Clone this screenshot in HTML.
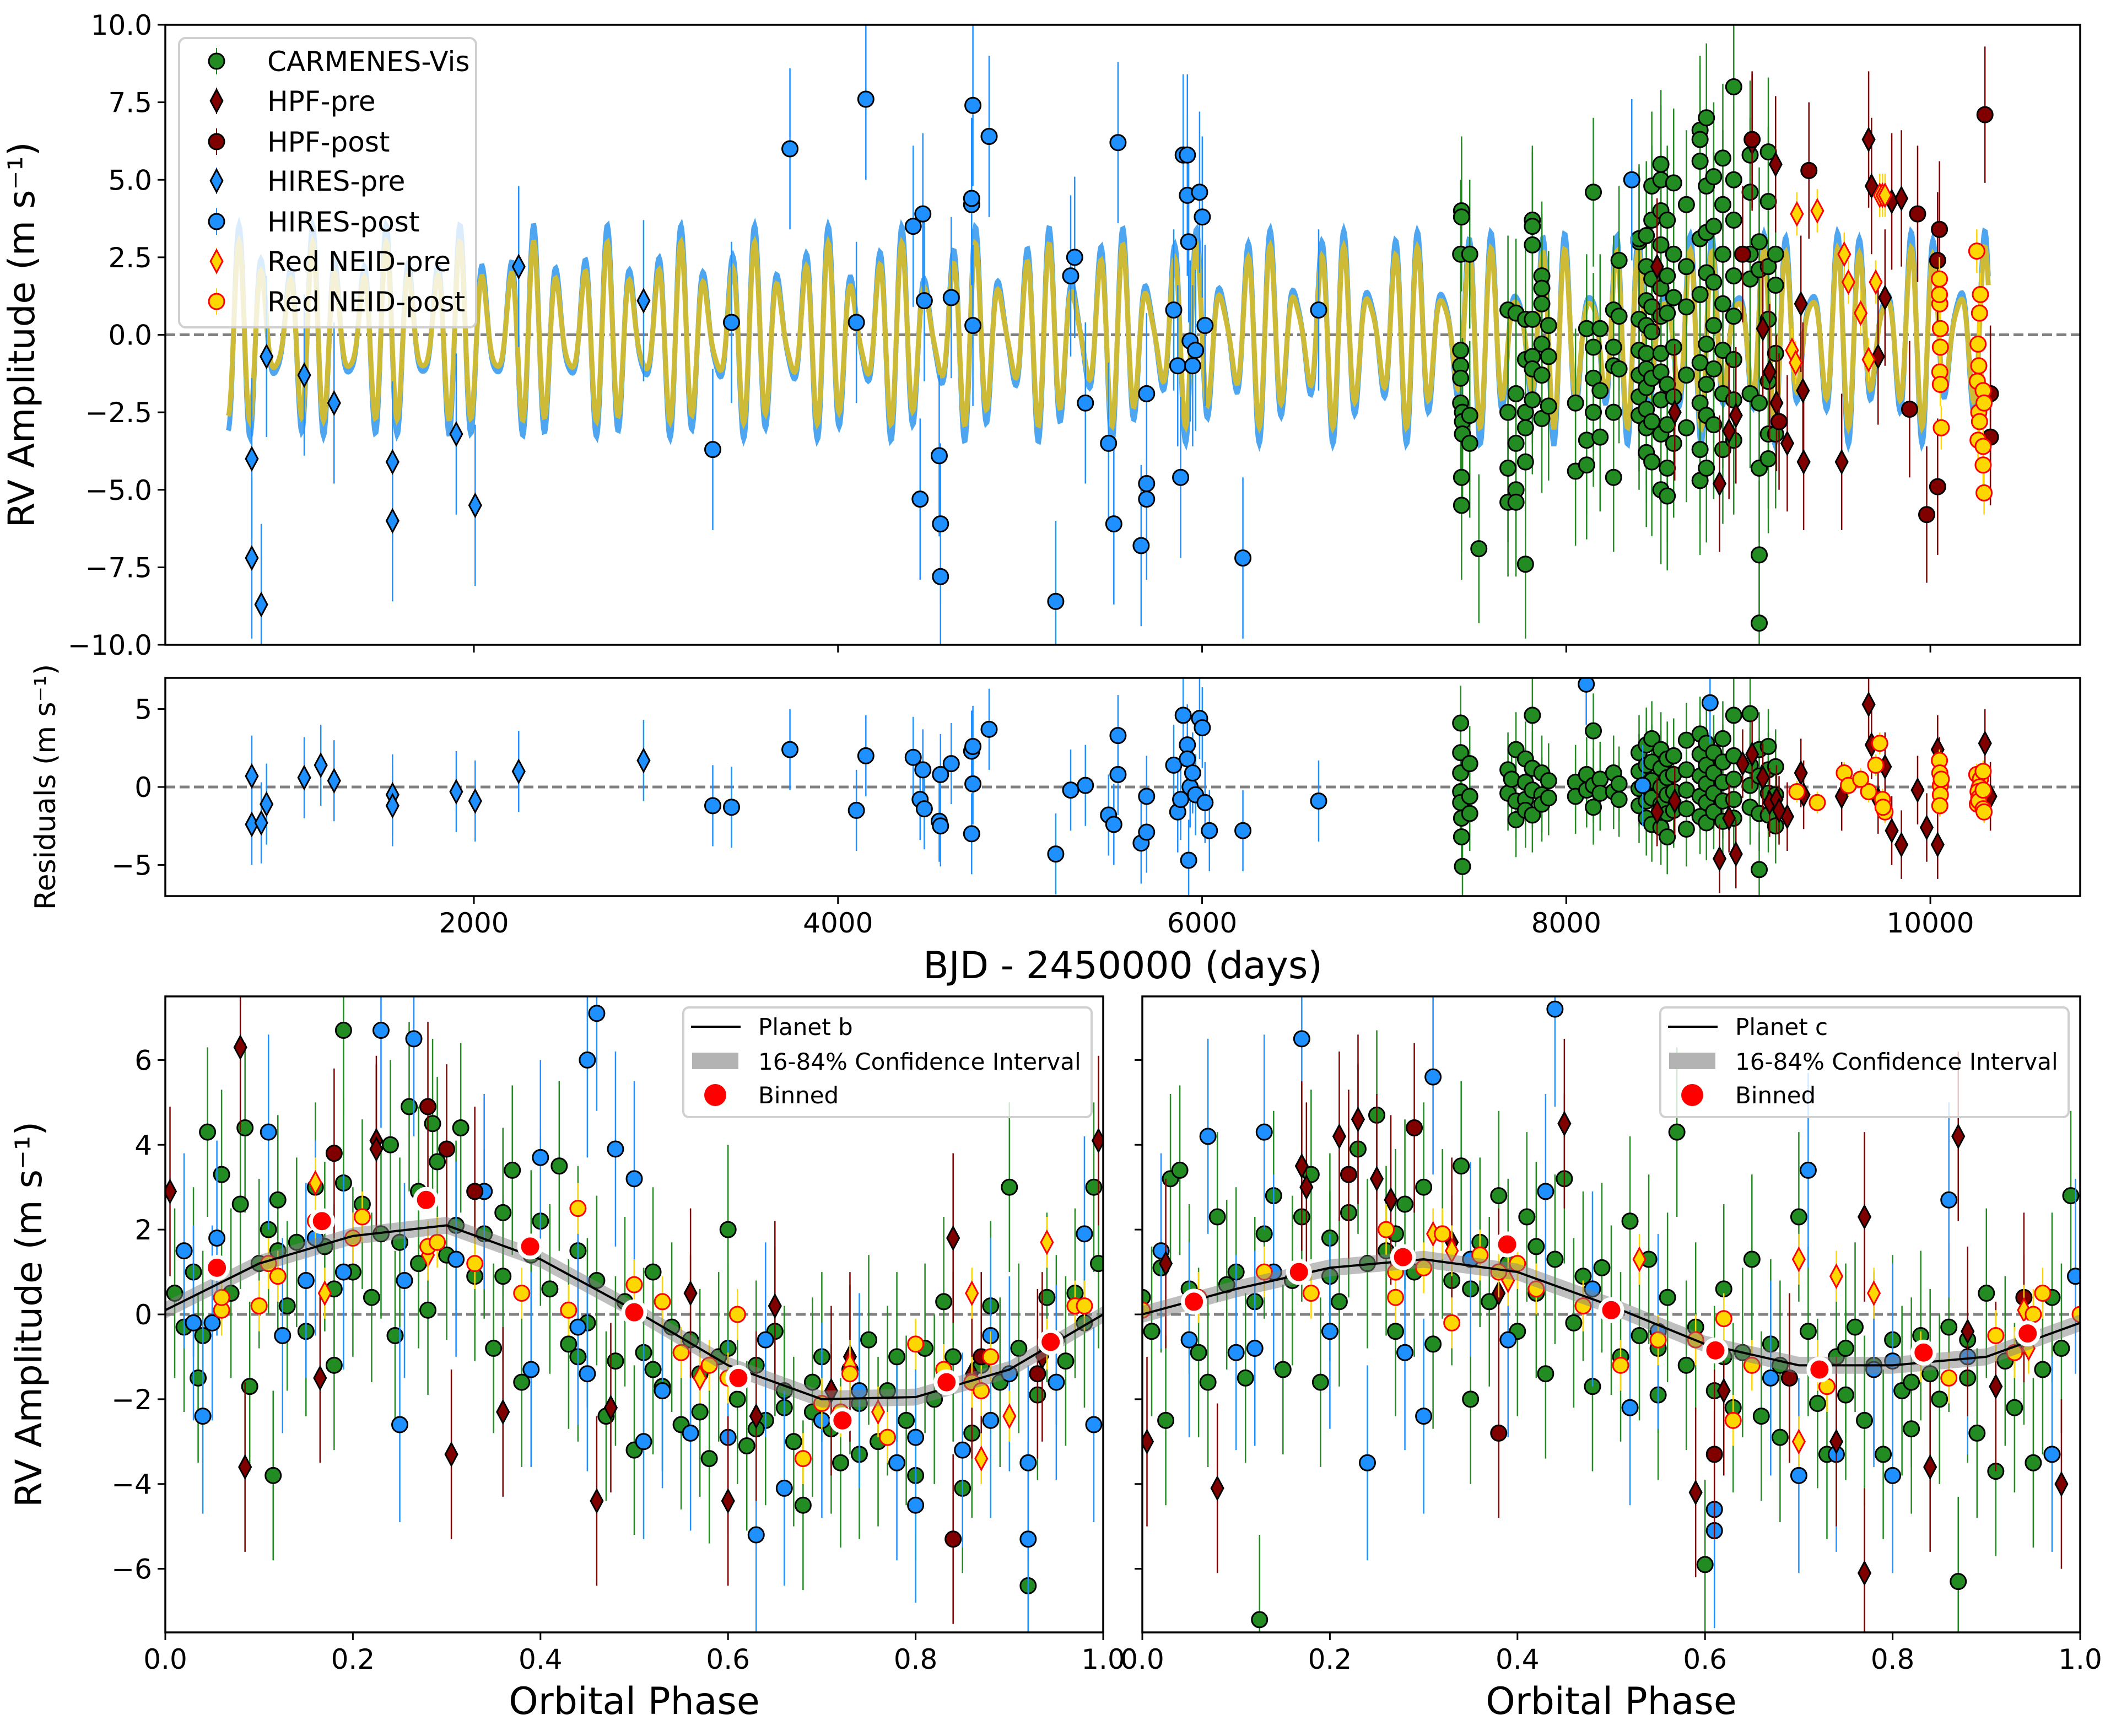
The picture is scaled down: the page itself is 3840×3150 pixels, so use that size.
<!DOCTYPE html>
<html><head><meta charset="utf-8"><title>RV fit</title>
<style>html,body{margin:0;padding:0;background:#fff}svg{display:block;font-family:"DejaVu Sans","Liberation Sans",sans-serif}</style>
</head><body>
<svg id="fig" xmlns="http://www.w3.org/2000/svg" width="3840" height="3150" viewBox="0 0 3840 3150"></svg>
<script>
// ===== DATA =====
const topTicks=[10,7.5,5,2.5,0,-2.5,-5,-7.5,-10];
const resTicks=[5,0,-5];
const dayTicks=[2000,4000,6000,8000,10000];
const phTicks=[0,0.2,0.4,0.6,0.8,1.0];
const phYTicks=[6,4,2,0,-2,-4,-6];
// model aliased oscillation parameters (apparent periods in days, amplitudes)
const modelPeriods=[135,101];
const modelAmps=[2.0,1.0];
// ---- time series: [day, rv]
const hiresPre=[[780,-4.0],[780,-7.2],[832,-8.7],[861,-0.7],[1068,-1.3],[1232,-2.2],[1553,-4.1],[1553,-6.0],[1903,-3.2],[2007,-5.5],[2246,2.2],[2932,1.1]];
const hiresPost=[[3312,-3.7],[3415,0.4],[3736,6.0],[4101,0.4],[4153,7.6],[4413,3.5],[4451,-5.3],[4466,3.9],[4474,1.1],[4556,-3.9],[4563,-6.1],[4563,-7.8],[4622,1.2],[4734,4.2],[4734,4.4],[4741,7.4],[4741,0.3],[4830,6.4],[5196,-8.6],[5278,1.9],[5300,2.5],[5359,-2.2],[5486,-3.5],[5515,-6.1],[5538,6.2],[5665,-6.8],[5695,-4.8],[5695,-5.3],[5695,-1.9],[5844,0.8],[5866,-1.0],[5882,-4.6],[5896,5.8],[5919,5.8],[5919,4.5],[5926,3.0],[5934,-0.2],[5948,-1.0],[5964,-0.5],[5986,4.6],[6001,3.8],[6016,0.3],[6224,-7.2],[6640,0.8],[8360,5.0]];
const carmenes=[[7420,2.6],[7420,-0.5],[7420,-1.0],[7420,-1.4],[7420,-2.2],[7430,-2.5],[7430,-2.8],[7430,-3.2],[7425,-4.6],[7425,-5.5],[7425,4.0],[7425,3.8],[7470,2.6],[7470,-2.6],[7470,-3.5],[7520,-6.9],[7680,0.8],[7680,-2.5],[7680,-4.3],[7680,-5.4],[7724,0.7],[7724,-1.9],[7724,-3.5],[7724,-5.0],[7724,-5.4],[7776,0.5],[7776,-0.8],[7776,-3.0],[7776,-7.4],[7776,-4.1],[7776,-2.5],[7814,3.7],[7814,3.5],[7814,2.9],[7814,0.5],[7814,-0.7],[7814,-1.1],[7814,-2.1],[7866,1.9],[7866,1.5],[7866,1.0],[7866,-0.3],[7866,-1.3],[7866,-2.7],[7903,-0.7],[7903,0.3],[7903,-2.3],[8051,-2.2],[8051,-4.4],[8112,0.2],[8112,-4.2],[8112,-3.4],[8149,4.6],[8149,-0.4],[8149,-1.4],[8149,-2.5],[8186,0.2],[8186,-3.3],[8186,-1.8],[8260,0.8],[8260,-0.4],[8260,-1.0],[8260,-2.5],[8260,-4.6],[8290,0.6],[8290,2.4],[8290,-1.1],[8400,0.5],[8400,3.0],[8400,3.1],[8400,-0.5],[8400,-1.3],[8400,-2.0],[8400,-2.6],[8440,3.2],[8440,2.2],[8440,1.1],[8440,0.3],[8440,-0.6],[8440,-1.1],[8440,-1.7],[8440,-2.4],[8440,-3.0],[8440,-3.8],[8470,4.8],[8470,3.7],[8470,1.8],[8470,0.9],[8470,0.1],[8470,-1.4],[8470,-2.8],[8470,-4.1],[8520,5.5],[8520,5.0],[8520,4.0],[8520,2.9],[8520,1.5],[8520,0.6],[8520,-0.6],[8520,-1.2],[8520,-2.1],[8520,-3.2],[8520,-5.0],[8555,3.7],[8555,1.9],[8555,0.7],[8555,-1.6],[8555,-2.9],[8555,-4.3],[8555,-5.2],[8590,4.9],[8590,2.6],[8590,1.2],[8590,-0.4],[8590,-2.0],[8590,-3.5],[8660,4.2],[8660,2.2],[8660,0.9],[8660,-1.3],[8660,-3.0],[8735,6.6],[8735,6.3],[8735,5.6],[8735,3.1],[8735,1.3],[8735,-0.9],[8735,-2.2],[8735,-3.7],[8735,-4.7],[8770,7.0],[8770,4.8],[8770,3.3],[8770,2.0],[8770,-0.3],[8770,-1.6],[8770,-2.6],[8770,-4.3],[8810,5.1],[8810,3.5],[8810,1.7],[8810,0.3],[8810,-1.1],[8810,-2.9],[8860,5.7],[8860,4.2],[8860,2.6],[8860,1.0],[8860,-0.5],[8860,-1.9],[8860,-3.7],[8920,8.0],[8920,5.0],[8920,3.7],[8920,1.9],[8920,0.6],[8920,-0.8],[8920,-2.1],[8920,-3.4],[9010,5.8],[9010,4.6],[9010,2.6],[9010,1.8],[9010,-1.9],[9060,-7.1],[9060,-9.3],[9060,3.0],[9060,2.1],[9060,-2.2],[9060,-4.3],[9110,5.9],[9110,4.3],[9110,2.2],[9110,0.5],[9110,-1.5],[9110,-3.2],[9110,-4.0],[9150,2.6],[9150,1.6],[9150,-0.6],[9150,-3.2]];
const hpfPre=[[8499,2.2],[8596,-2.5],[8842,-4.8],[8894,-3.1],[8932,-2.6],[9021,6.2],[9080,0.2],[9117,-1.2],[9155,-2.2],[9214,-3.5],[9289,1.0],[9304,-4.1],[9513,-4.1],[9661,6.3],[9677,4.8],[9713,-0.7],[9751,1.2],[9788,4.3],[9841,4.4],[9300,-1.8],[9150,5.5]];
const hpfPost=[[8969,2.6],[9021,6.3],[9169,-2.8],[9333,5.3],[9930,3.9],[9980,-5.8],[10040,-4.9],[10040,2.4],[10050,3.4],[10300,7.1],[10330,-1.9],[10330,-3.3],[9886,-2.4]];
const neidPre=[[9267,3.9],[9379,4.0],[9527,2.6],[9550,1.7],[9700,1.7],[9722,4.5],[9737,4.5],[9751,4.5],[9661,-0.8],[9617,0.7],[9240,-0.5],[9260,-0.9]];
const neidPost=[[10050,1.8],[10052,1.0],[10055,0.2],[10055,-0.4],[10052,-1.2],[10055,-1.6],[10060,-3.0],[10050,1.3],[10255,2.7],[10275,1.3],[10270,0.7],[10262,-0.3],[10266,-1.0],[10258,-1.5],[10266,-2.5],[10270,-2.8],[10262,-3.4],[10290,-3.6],[10290,-4.2],[10295,-5.1],[10290,-1.8],[10295,-2.2]];
// ---- residuals: [day, res]
const resHiresPre=[[780,0.7],[780,-2.4],[832,-2.3],[861,-1.1],[1068,0.6],[1159,1.4],[1232,0.4],[1553,-0.5],[1553,-1.2],[1903,-0.3],[2007,-0.9],[2246,1.0],[2932,1.7]];
const resHiresPost=[[3312,-1.2],[3415,-1.3],[3736,2.4],[4101,-1.5],[4153,2.0],[4413,1.9],[4451,-0.8],[4466,1.1],[4474,-1.4],[4556,-2.2],[4563,-2.5],[4563,0.8],[4622,1.5],[4734,2.3],[4734,-3.0],[4741,0.2],[4741,2.6],[4830,3.7],[5196,-4.3],[5278,-0.2],[5359,0.1],[5486,-1.8],[5515,-2.4],[5538,3.3],[5538,0.8],[5665,-3.6],[5695,-0.6],[5695,-2.9],[5844,1.4],[5866,-1.6],[5882,-0.8],[5896,4.6],[5919,2.7],[5919,1.8],[5926,-4.7],[5934,0.0],[5948,0.9],[5964,-0.5],[5986,4.4],[6001,3.8],[6016,-1.0],[6040,-2.8],[6224,-2.8],[6640,-0.9],[8110,6.6],[8420,0.1],[8790,5.4]];
const resCarm=[[7420,4.1],[7420,2.2],[7420,0.9],[7420,-0.3],[7420,-1.0],[7425,-2.0],[7425,-3.2],[7430,-5.1],[7470,1.5],[7470,-0.6],[7470,-1.7],[7680,1.1],[7680,-0.4],[7700,0.5],[7724,2.4],[7724,-0.9],[7724,-2.1],[7776,1.8],[7776,0.3],[7776,-0.8],[7776,-1.5],[7814,4.6],[7814,1.2],[7814,-0.2],[7814,-1.8],[7866,0.9],[7866,-0.5],[7866,-1.1],[7903,0.4],[7903,-0.7],[8051,0.3],[8051,-0.6],[8112,0.8],[8112,-0.2],[8149,3.6],[8149,0.1],[8149,-1.3],[8186,0.5],[8186,-0.4],[8260,0.9],[8260,-0.3],[8290,0.2],[8290,-0.8],[8400,2.2],[8400,1.0],[8400,-0.1],[8400,-1.2],[8440,2.7],[8440,1.4],[8440,0.2],[8440,-0.9],[8440,-2.0],[8470,3.1],[8470,1.6],[8470,0.4],[8470,-0.7],[8470,-2.4],[8520,2.4],[8520,1.2],[8520,0.0],[8520,-1.1],[8520,-2.6],[8555,1.8],[8555,0.6],[8555,-0.5],[8555,-1.7],[8555,-3.2],[8590,2.0],[8590,0.8],[8590,-0.3],[8590,-1.5],[8660,3.0],[8660,1.1],[8660,-0.2],[8660,-1.4],[8660,-2.7],[8735,3.4],[8735,2.1],[8735,0.7],[8735,-0.6],[8735,-1.9],[8770,2.8],[8770,1.4],[8770,0.2],[8770,-1.0],[8770,-2.3],[8810,2.2],[8810,0.9],[8810,-0.4],[8810,-1.6],[8860,3.1],[8860,1.6],[8860,0.3],[8860,-0.9],[8860,-2.2],[8920,4.6],[8920,2.0],[8920,0.5],[8920,-0.8],[8920,-2.0],[9010,4.7],[9010,1.4],[9010,0.1],[9010,-1.3],[9060,-5.3],[9060,2.4],[9060,0.7],[9060,-1.7],[9110,2.6],[9110,1.1],[9110,-0.4],[9110,-1.8],[9150,1.3],[9150,-0.5],[9150,-2.5]];
const resHpf=[[8499,-1.6],[8596,-0.9],[8842,-4.6],[8894,-2.0],[8932,-4.3],[9021,2.1],[9080,0.6],[9117,-1.0],[9155,-0.8],[9214,-1.9],[9289,0.9],[9304,-0.5],[9513,-0.6],[9661,5.3],[9677,2.7],[9713,-0.8],[9751,1.3],[9788,-2.8],[9841,-3.7],[9930,-0.2],[9980,-2.6],[10040,-3.7],[10040,2.4],[10050,1.0],[10300,2.8],[10330,-0.6],[8969,1.5],[9169,-1.5]];
const resNeid=[[9267,-0.3],[9379,-1.0],[9527,0.9],[9550,0.1],[9700,1.4],[9722,2.8],[9737,-0.8],[9751,-1.6],[9661,-0.3],[9617,0.5],[9740,-1.3],[10050,1.7],[10052,0.9],[10055,0.1],[10055,-0.5],[10052,-1.2],[10060,0.5],[10255,0.8],[10275,0.5],[10270,0.0],[10262,-0.3],[10266,-0.7],[10258,-1.1],[10266,-0.9],[10290,1.0],[10290,-1.4],[10295,-1.6],[10290,-0.2]];
// ---- phase-folded: [phase, rv]
const bCarm=[[0.01,0.5],[0.02,-0.3],[0.03,1.0],[0.035,-1.5],[0.04,-0.5],[0.045,4.3],[0.06,3.3],[0.07,0.5],[0.08,2.6],[0.085,4.4],[0.09,-1.7],[0.1,1.2],[0.11,2.0],[0.115,-3.8],[0.12,2.7],[0.13,0.2],[0.14,1.7],[0.15,-0.4],[0.16,3.0],[0.17,1.6],[0.18,-1.2],[0.19,3.1],[0.19,6.7],[0.2,1.0],[0.21,2.6],[0.22,0.4],[0.23,1.9],[0.24,4.0],[0.245,-0.5],[0.25,1.7],[0.26,4.9],[0.27,2.9],[0.28,0.1],[0.285,4.5],[0.29,3.6],[0.3,1.4],[0.31,2.1],[0.315,4.4],[0.33,0.9],[0.34,1.9],[0.35,-0.8],[0.36,2.4],[0.37,3.4],[0.38,-1.6],[0.39,1.4],[0.4,2.2],[0.41,0.6],[0.42,3.5],[0.43,-0.7],[0.44,1.5],[0.45,-0.2],[0.46,0.8],[0.47,-2.4],[0.48,-1.1],[0.49,0.3],[0.5,-3.2],[0.51,-0.9],[0.52,1.0],[0.53,-1.7],[0.54,-0.3],[0.55,-2.6],[0.56,-0.6],[0.57,-1.4],[0.58,-3.4],[0.59,-1.0],[0.6,2.0],[0.61,-2.0],[0.62,-3.1],[0.63,-1.2],[0.64,-2.5],[0.65,-0.4],[0.66,-1.8],[0.67,-3.0],[0.68,-4.5],[0.69,-2.3],[0.7,-1.0],[0.71,-2.7],[0.72,-3.5],[0.73,-1.3],[0.74,-2.1],[0.75,-0.6],[0.76,-3.0],[0.77,-1.8],[0.78,-1.0],[0.79,-2.5],[0.8,-3.8],[0.81,-0.8],[0.82,-2.0],[0.83,0.3],[0.84,-1.0],[0.85,-4.1],[0.86,-2.8],[0.87,-1.2],[0.88,0.2],[0.89,-1.6],[0.9,3.0],[0.91,-0.8],[0.92,-6.4],[0.93,-1.9],[0.94,0.4],[0.95,-0.6],[0.96,-1.1],[0.97,0.5],[0.98,-0.2],[0.99,3.0],[0.995,1.2],[0.52,-1.3],[0.57,-2.3],[0.63,-2.7],[0.69,-1.6],[0.74,-3.3],[0.66,-2.2],[0.6,-0.8],[0.44,-1.0],[0.36,0.9],[0.27,1.2],[0.18,0.6],[0.12,1.5]];
const bHires=[[0.02,1.5],[0.03,-0.2],[0.04,-2.4],[0.05,-0.2],[0.055,1.8],[0.11,4.3],[0.125,-0.5],[0.15,0.8],[0.16,1.8],[0.19,1.0],[0.23,6.7],[0.25,-2.6],[0.255,0.8],[0.265,6.5],[0.31,1.3],[0.34,2.9],[0.39,-1.3],[0.4,3.7],[0.44,-0.3],[0.45,-1.4],[0.45,6.0],[0.46,7.1],[0.48,3.9],[0.5,3.2],[0.51,-3.0],[0.53,-1.8],[0.56,-2.8],[0.6,-2.9],[0.63,-5.2],[0.64,-0.6],[0.66,-4.1],[0.7,-2.5],[0.74,-1.8],[0.78,-3.5],[0.8,-4.5],[0.8,-2.9],[0.85,-3.2],[0.88,-2.5],[0.88,-0.5],[0.9,-1.4],[0.92,-3.5],[0.92,-5.3],[0.95,-1.6],[0.98,1.9],[0.99,-2.6]];
const bHpfPre=[[0.005,2.9],[0.08,6.3],[0.085,-3.6],[0.165,-1.5],[0.225,4.1],[0.225,3.9],[0.305,-3.3],[0.36,-2.3],[0.46,-4.4],[0.475,-2.2],[0.56,0.5],[0.6,-4.4],[0.63,-2.4],[0.65,0.2],[0.71,-1.8],[0.73,-1.0],[0.84,1.8],[0.86,-1.4],[0.935,-1.0],[0.995,4.1]];
const bHpfPost=[[0.18,3.8],[0.28,4.9],[0.3,3.9],[0.33,2.9],[0.84,-5.3],[0.87,-1.0],[0.93,-1.4]];
const bNeidPre=[[0.16,3.1],[0.17,0.5],[0.28,1.4],[0.57,-1.5],[0.73,-1.2],[0.76,-2.3],[0.86,0.5],[0.87,-3.4],[0.9,-2.4],[0.94,1.7]];
const bNeidPost=[[0.06,0.1],[0.06,0.4],[0.1,0.2],[0.11,1.2],[0.12,0.9],[0.16,2.2],[0.2,1.8],[0.21,2.3],[0.28,1.6],[0.29,1.7],[0.33,1.2],[0.38,0.5],[0.43,0.1],[0.44,2.5],[0.5,0.7],[0.53,0.3],[0.55,-0.9],[0.58,-1.2],[0.6,-1.5],[0.61,0],[0.68,-3.4],[0.7,-2.1],[0.72,-2.3],[0.73,-1.4],[0.77,-2.9],[0.8,-0.7],[0.83,-1.3],[0.86,-1.6],[0.87,-1.8],[0.88,-1.0],[0.94,-0.7],[0.97,0.2],[0.98,0.2]];
const cCarm=[[0.0,0.4],[0.01,-0.4],[0.02,1.1],[0.025,-2.5],[0.03,3.2],[0.04,3.4],[0.05,0.6],[0.06,-0.9],[0.07,-1.6],[0.08,2.3],[0.09,0.7],[0.1,1.0],[0.11,-1.5],[0.12,0.3],[0.125,-7.2],[0.13,1.9],[0.14,2.8],[0.15,-1.3],[0.16,0.8],[0.17,2.3],[0.18,3.3],[0.19,-1.6],[0.2,1.8],[0.21,0.3],[0.22,2.4],[0.23,3.9],[0.24,1.2],[0.25,4.7],[0.26,1.5],[0.27,-0.4],[0.28,2.6],[0.29,1.0],[0.3,3.0],[0.31,-0.7],[0.32,1.9],[0.33,0.8],[0.34,3.5],[0.35,-2.0],[0.36,1.7],[0.37,0.3],[0.38,2.8],[0.39,1.2],[0.4,-0.4],[0.41,2.3],[0.42,0.5],[0.43,-1.4],[0.44,1.3],[0.45,3.2],[0.46,-0.2],[0.47,0.9],[0.48,-1.7],[0.49,1.1],[0.5,0.1],[0.51,-1.0],[0.52,2.2],[0.53,-0.5],[0.54,1.3],[0.55,-1.9],[0.56,0.4],[0.57,4.3],[0.58,-1.2],[0.59,-0.3],[0.6,-5.9],[0.61,-1.8],[0.62,0.6],[0.63,-2.2],[0.64,-0.9],[0.65,1.3],[0.66,-2.4],[0.67,-0.7],[0.68,-2.9],[0.69,-1.5],[0.7,2.3],[0.71,-0.4],[0.72,-2.1],[0.73,-3.3],[0.74,-1.0],[0.75,-1.9],[0.76,-0.3],[0.77,-2.5],[0.78,-1.2],[0.79,-3.3],[0.8,-0.6],[0.81,-1.8],[0.82,-2.7],[0.83,-0.5],[0.84,-1.4],[0.85,-2.0],[0.86,-0.3],[0.87,-6.3],[0.88,-1.5],[0.89,-2.8],[0.9,0.5],[0.91,-3.7],[0.92,-1.1],[0.93,-2.2],[0.94,-0.6],[0.95,-3.5],[0.96,-1.3],[0.97,0.4],[0.98,-0.8],[0.99,2.8],[0.2,0.9],[0.27,1.9],[0.35,0.6],[0.42,1.6],[0.55,-0.8],[0.62,-1.0],[0.68,-1.2],[0.75,-0.8],[0.82,-1.6],[0.88,-0.6]];
const cHires=[[0.02,1.5],[0.05,-0.6],[0.07,4.2],[0.1,-0.9],[0.12,-0.8],[0.13,4.3],[0.14,1.0],[0.17,6.5],[0.2,-0.4],[0.24,-3.5],[0.28,-0.9],[0.3,-2.4],[0.31,5.6],[0.35,1.3],[0.39,-0.6],[0.43,2.9],[0.44,7.2],[0.48,0.6],[0.52,-2.2],[0.55,-0.4],[0.61,-5.1],[0.61,-4.6],[0.67,-1.5],[0.7,-3.8],[0.71,3.4],[0.74,-3.3],[0.78,-1.3],[0.8,-3.8],[0.86,2.7],[0.88,-1.0],[0.97,-3.3],[0.995,0.9],[0.8,-1.1]];
const cHpfPre=[[0.005,-3.0],[0.025,1.2],[0.08,-4.1],[0.17,3.5],[0.175,3.0],[0.21,4.2],[0.23,4.6],[0.25,3.2],[0.265,2.7],[0.33,1.7],[0.38,0.5],[0.45,4.5],[0.59,-4.2],[0.62,-1.8],[0.74,-3.0],[0.77,-6.1],[0.77,2.3],[0.84,-3.6],[0.87,4.2],[0.88,-0.4],[0.91,-1.7],[0.98,-4.0]];
const cHpfPost=[[0.29,4.4],[0.38,-2.8],[0.61,-3.3],[0.69,-1.5],[0.94,0.4],[0.22,3.3]];
const cNeidPre=[[0.31,1.9],[0.33,1.5],[0.39,0.8],[0.53,1.3],[0.7,-3.0],[0.7,1.3],[0.74,0.9],[0.78,0.5],[0.94,0.1],[0.945,-0.8]];
const cNeidPost=[[0.0,0.1],[0.06,0.4],[0.13,1.0],[0.18,0.5],[0.26,2.0],[0.27,1.0],[0.27,0.4],[0.3,1.1],[0.32,1.9],[0.33,-0.2],[0.36,1.4],[0.38,1.0],[0.4,1.2],[0.42,0.6],[0.47,0.2],[0.51,-1.2],[0.55,-0.6],[0.59,-0.6],[0.62,-0.1],[0.63,-2.5],[0.65,-1.2],[0.72,-1.2],[0.73,-1.7],[0.83,-1.0],[0.86,-1.5],[0.91,-0.5],[0.93,-0.9],[0.95,0.0],[0.96,0.5],[1.0,0]];
// binned points
const binPhase=[0.055,0.167,0.278,0.389,0.5,0.611,0.722,0.833,0.944];
const binB=[1.1,2.2,2.7,1.6,0.05,-1.5,-2.5,-1.6,-0.65];
const binC=[0.3,1.0,1.35,1.65,0.1,-0.85,-1.3,-0.9,-0.45];
// model curves sampled at phase 0,0.1,...,1.0
const modelPhase=[0,0.1,0.2,0.3,0.4,0.5,0.6,0.7,0.8,0.9,1.0];
const modelB=[0.1,1.2,1.85,2.1,1.3,0.1,-1.2,-2.0,-1.95,-1.3,0.0];
const modelC=[0.0,0.6,1.1,1.3,1.0,0.2,-0.7,-1.2,-1.2,-1.0,-0.2];
// error-bar half lengths per instrument
const errTop={carm:2.4,hires:2.6,hpf:2.2,neid:0.7};
const errPhase={carm:2.0,hires:2.3,hpf:2.0,neid:0.6};

// ===== DRAWING =====
const NS='http://www.w3.org/2000/svg';
const svg=document.getElementById('fig');
function mk(tag,attrs,parent){const e=document.createElementNS(NS,tag);for(const k in attrs)e.setAttribute(k,attrs[k]);(parent||svg).appendChild(e);return e;}
function axis(x0,x1,y0,y1,xmin,xmax,ymin,ymax){return {x0,x1,y0,y1,X:v=>x0+(v-xmin)/(xmax-xmin)*(x1-x0),Y:v=>y1-(v-ymin)/(ymax-ymin)*(y1-y0)};}
const P={
 top:axis(300,3775,45,1170,305,10823,-10,10),
 res:axis(300,3775,1230,1626,305,10823,-7,7),
 b:axis(300,2002,1808,2962,0,1,-7.5,7.5),
 c:axis(2073,3775,1808,2962,0,1,-7.5,7.5)};
const COL={carm:'#228B22',hires:'#1E90FF',hpf:'#800000',neid:'#FFD700'};
const EDGE={carm:'#000',hires:'#000',hpf:'#000',neid:'#FF0000'};
let cid=0;
function clip(p){const id='cl'+(cid++);const cp=mk('clipPath',{id},defs);mk('rect',{x:p.x0,y:p.y0,width:p.x1-p.x0,height:p.y1-p.y0},cp);return 'url(#'+id+')';}
const defs=mk('defs',{});
function marker(g,cx,cy,shape,inst,r){
 let e;
 if(shape==='circle'){e=mk('circle',{cx:cx,cy:cy,r:r,fill:COL[inst],stroke:EDGE[inst],'stroke-width':3},g);}
 else{const w=r*0.78,h=r*1.45;e=mk('path',{d:`M${cx} ${cy-h}L${cx+w} ${cy}L${cx} ${cy+h}L${cx-w} ${cy}Z`,fill:COL[inst],stroke:EDGE[inst],'stroke-width':3},g);}
 return e;}
function series(p,data,inst,shape,err,name,g){
 const sg=mk('g',{},g);
 
 
 data.forEach(d=>{const x=p.X(d[0]),y=p.Y(d[1]);
  const l=mk('line',{x1:x,x2:x,y1:p.Y(d[1]+err),y2:p.Y(d[1]-err),stroke:COL[inst]==='#FFD700'?'#FFD700':COL[inst],'stroke-width':2.5},sg);
  
  });
 data.forEach(d=>{const m=marker(sg,p.X(d[0]),p.Y(d[1]),shape,inst,14);
  
  });
}
function frame(p,name){const r=mk('rect',{x:p.x0,y:p.y0,width:p.x1-p.x0,height:p.y1-p.y0,fill:'none',stroke:'#000','stroke-width':3.5});
 
 }
function zeroLine(p,g){const l=mk('line',{x1:p.x0,x2:p.x1,y1:p.Y(0),y2:p.Y(0),stroke:'#808080','stroke-width':5,'stroke-dasharray':'18,8'},g);
 
 }
function text(x,y,s,size,anchor,name,rot){const t=mk('text',{x:x,y:y,'font-size':size,'text-anchor':anchor||'middle',fill:'#000'});t.textContent=s;
 if(rot)t.setAttribute('transform',`rotate(-90 ${x} ${y})`);
 
 return t;}
function yTicks(p,ticks,fmt,labels,name){ticks.forEach(v=>{const y=p.Y(v);mk('line',{x1:p.x0-14,x2:p.x0,y1:y,y2:y,stroke:'#000','stroke-width':3});
 if(labels){const t=text(p.x0-24,y+18,fmt(v).replace('-','\u2212'),50,'end',name);}});}
function xTicks(p,ticks,fmt,labels,name){ticks.forEach(v=>{const x=p.X(v);mk('line',{x1:x,x2:x,y1:p.y1,y2:p.y1+14,stroke:'#000','stroke-width':3});
 if(labels){text(x,p.y1+66,fmt(v),50,'middle',name);}});}

// ---- top panel
(function(){const p=P.top;const g=mk('g',{'clip-path':clip(p)});
 
 
 zeroLine(p,g);
 const model=t=>modelPeriods.reduce((s,per,i)=>s+modelAmps[i]*Math.sin(2*Math.PI*t/per+i*1.3),0);
 let dB='',dY='';
 for(let t=650;t<=10320;t+=4){const m=model(t);const x=p.X(t);dB+=(dB?'L':'M')+x.toFixed(1)+' '+p.Y(m*1.18).toFixed(1);dY+=(dY?'L':'M')+x.toFixed(1)+' '+p.Y(m).toFixed(1);}
 const mb=mk('path',{d:dB,fill:'none',stroke:'#4da6ef','stroke-width':9},g);
 
 
 const my=mk('path',{d:dY,fill:'none',stroke:'#cdbb38','stroke-width':9},g);
 
 
 series(p,carmenes,'carm','circle',errTop.carm,'carmenes-vis',g);
 series(p,hiresPre,'hires','diamond',errTop.hires,'hires-pre',g);
 series(p,hiresPost,'hires','circle',errTop.hires,'hires-post',g);
 series(p,hpfPre,'hpf','diamond',errTop.hpf,'hpf-pre',g);
 series(p,hpfPost,'hpf','circle',errTop.hpf,'hpf-post',g);
 series(p,neidPre,'neid','diamond',errTop.neid,'red-neid-pre',g);
 series(p,neidPost,'neid','circle',errTop.neid,'red-neid-post',g);
 frame(p,'top-axes-frame');
 yTicks(p,topTicks,v=>v.toFixed(1),true,'y-tick-label');
 xTicks(p,dayTicks,v=>String(v),false,'x-tick');
 text(62,(p.y0+p.y1)/2,'RV Amplitude (m s\u207B\u00B9)',66,'middle','y-axis-title',true);
 // legend
 const lg=mk('g',{});
 
 
 mk('rect',{x:325,y:69,width:539,height:525,rx:12,fill:'#fff','fill-opacity':0.8,stroke:'#d0d0d0','stroke-width':4},lg);
 const items=[['CARMENES-Vis','carm','circle'],['HPF-pre','hpf','diamond'],['HPF-post','hpf','circle'],['HIRES-pre','hires','diamond'],['HIRES-post','hires','circle'],['Red NEID-pre','neid','diamond'],['Red NEID-post','neid','circle']];
 const ys=[111,183,257,328,402,474,547];
 items.forEach((it,i)=>{const e=mk('g',{},lg);
  
  
  mk('line',{x1:393,x2:393,y1:ys[i]-24,y2:ys[i]+24,stroke:COL[it[1]],'stroke-width':2},e);
  marker(e,393,ys[i],it[2],it[1],14);
  const t=mk('text',{x:485,y:ys[i]+18,'font-size':50},e);t.textContent=it[0];});
})();

// ---- residual panel
(function(){const p=P.res;const g=mk('g',{'clip-path':clip(p)});
 
 
 zeroLine(p,g);
 series(p,resCarm,'carm','circle',errTop.carm,'residual-carmenes',g);
 series(p,resHiresPre,'hires','diamond',errTop.hires,'residual-hires-pre',g);
 series(p,resHiresPost,'hires','circle',errTop.hires,'residual-hires-post',g);
 series(p,resHpf,'hpf','diamond',errTop.hpf,'residual-hpf',g);
 series(p,resNeid,'neid','circle',errTop.neid,'residual-neid',g);
 frame(p,'residual-axes-frame');
 yTicks(p,resTicks,v=>String(v),true,'residual-y-tick-label');
 xTicks(p,dayTicks,v=>String(v),true,'x-tick-label');
 text(100,(p.y0+p.y1)/2,'Residuals (m s\u207B\u00B9)',52,'middle','residual-y-axis-title',true);
 text((p.x0+p.x1)/2,1775,'BJD - 2450000 (days)',68,'middle','x-axis-title');
})();

// ---- phase panels
function phasePanel(p,key,sets,bin,modelV,label,showY){
 const g=mk('g',{'clip-path':clip(p)});
 
 
 zeroLine(p,g);
 series(p,sets[0],'carm','circle',errPhase.carm,key+'-carmenes',g);
 series(p,sets[1],'hires','circle',errPhase.hires,key+'-hires',g);
 series(p,sets[2],'hpf','diamond',errPhase.hpf,key+'-hpf-pre',g);
 series(p,sets[3],'hpf','circle',errPhase.hpf,key+'-hpf-post',g);
 series(p,sets[4],'neid','diamond',errPhase.neid,key+'-neid-pre',g);
 series(p,sets[5],'neid','circle',errPhase.neid,key+'-neid-post',g);
 let up='',dn='',ln='';
 modelPhase.forEach((ph,i)=>{ln+=(i?'L':'M')+p.X(ph)+' '+p.Y(modelV[i]);up+=(i?'L':'M')+p.X(ph)+' '+p.Y(modelV[i]+0.2);});
 for(let i=modelPhase.length-1;i>=0;i--)dn+='L'+p.X(modelPhase[i])+' '+p.Y(modelV[i]-0.2);
 const band=mk('path',{d:up+dn+'Z',fill:'#808080','fill-opacity':0.5},g);
 
 
 const ml=mk('path',{d:ln,fill:'none',stroke:'#000','stroke-width':4},g);
 
 
 binPhase.forEach((ph,i)=>{const c=mk('circle',{cx:p.X(ph),cy:p.Y(bin[i]),r:20,fill:'#FF0000',stroke:'#fff','stroke-width':7},g);
  
  });
 frame(p,key+'-axes-frame');
 yTicks(p,phYTicks,v=>String(v),showY,'phase-y-tick-label');
 xTicks(p,phTicks,v=>v.toFixed(1),true,'phase-x-tick-label');
 text((p.x0+p.x1)/2,3110,'Orbital Phase',68,'middle','phase-x-axis-title');
 const lx=p.x1-762,ly=1828;
 const lg=mk('g',{});
 
 
 mk('rect',{x:lx,y:ly,width:741,height:199,rx:10,fill:'#fff','fill-opacity':0.8,stroke:'#d0d0d0','stroke-width':4},lg);
 mk('line',{x1:lx+14,x2:lx+104,y1:1863,y2:1863,stroke:'#000','stroke-width':4},lg);
 mk('rect',{x:lx+16,y:1910,width:84,height:30,fill:'#b3b3b3'},lg);
 mk('circle',{cx:lx+58,cy:1987,r:20,fill:'#FF0000'},lg);
 [[label,1863],['16-84% Confidence Interval',1926],['Binned',1987]].forEach(a=>{const t=mk('text',{x:lx+136,y:a[1]+15,'font-size':42},lg);t.textContent=a[0];
  
  });
}
phasePanel(P.b,'planet-b',[bCarm,bHires,bHpfPre,bHpfPost,bNeidPre,bNeidPost],binB,modelB,'Planet b',true);
phasePanel(P.c,'planet-c',[cCarm,cHires,cHpfPre,cHpfPost,cNeidPre,cNeidPost],binC,modelC,'Planet c',false);
text(75,2385,'RV Amplitude (m s\u207B\u00B9)',66,'middle','phase-y-axis-title',true);
</script>
</body></html>
